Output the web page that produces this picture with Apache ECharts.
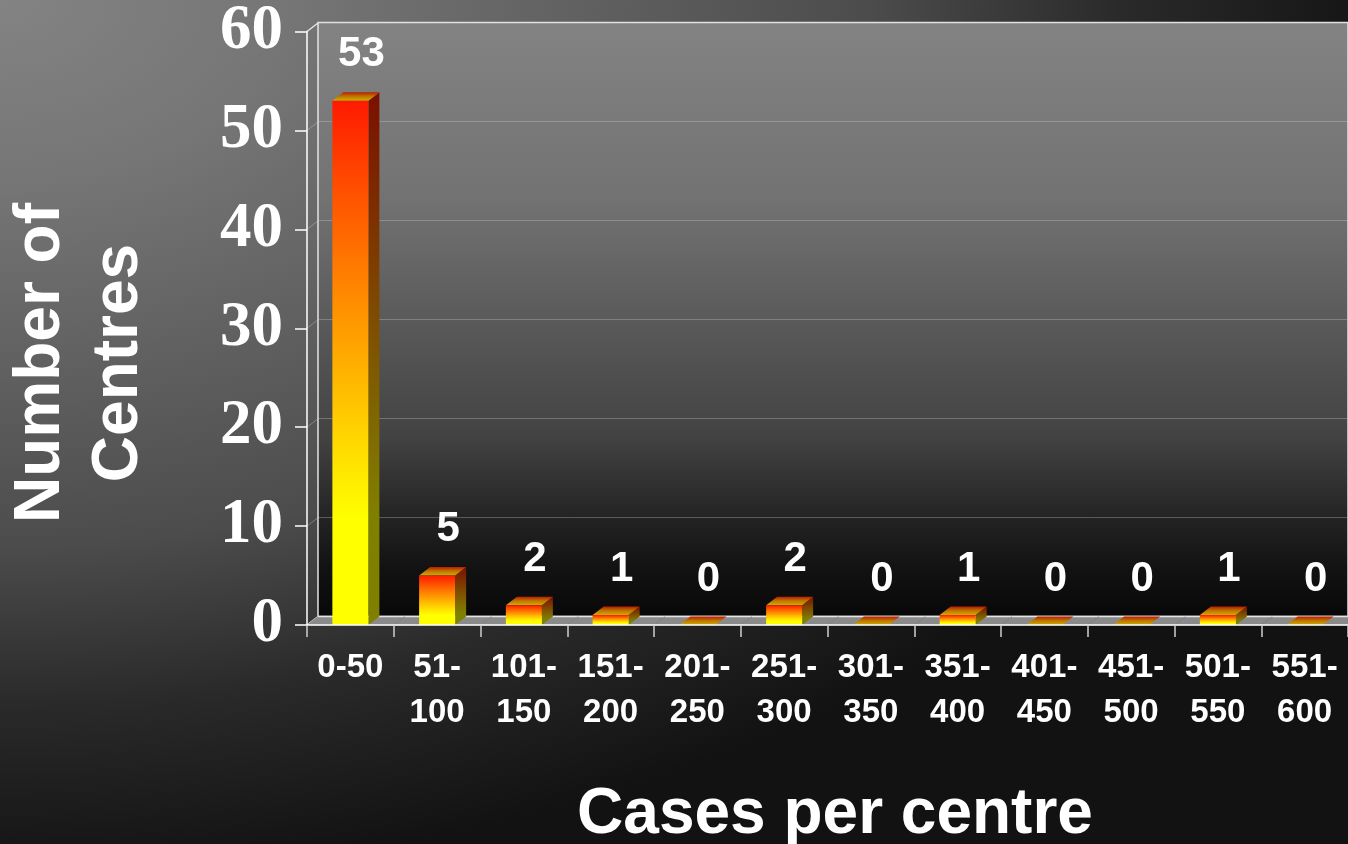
<!DOCTYPE html>
<html>
<head>
<meta charset="utf-8">
<script src="https://cdn.jsdelivr.net/npm/echarts@6/dist/echarts.min.js"></script>
<style>
  html, body { margin: 0; padding: 0; }
  body {
    width: 1348px; height: 844px; overflow: hidden;
    background: radial-gradient(ellipse 1400px 880px at 0 0, #838383 0%, #767676 20%, #4c4c4c 62%, #2a2a2a 80%, #121212 100%);
  }
  #chart { width: 1348px; height: 844px; }
</style>
</head>
<body>
<div id="chart"></div>
<script>
// chart data
const categories = ['0-50', '51-100', '101-150', '151-200', '201-250', '251-300',
  '301-350', '351-400', '401-450', '451-500', '501-550', '551-600'];
const centres = [53, 5, 2, 1, 0, 2, 0, 1, 0, 0, 1, 0];
const yTicks = [0, 10, 20, 30, 40, 50, 60];

// 3D look: depth of the box going back
const DX = 11;
const DY = 8.5;

const chart = echarts.init(document.getElementById('chart'));

const grad = (stops) => ({
  type: 'linear', x: 0, y: 0, x2: 0, y2: 1,
  colorStops: stops.map(([offset, color]) => ({ offset, color }))
});

const frontFill = grad([[0, '#ff1a00'], [0.19, '#ff5500'], [0.38, '#ff8c00'], [0.65, '#ffd800'], [0.8, '#ffff00'], [1, '#ffff00']]);
const sideFill = grad([[0, '#7a1000'], [0.19, '#7c2a00'], [0.38, '#7e4600'], [0.65, '#806c00'], [0.8, '#808000'], [1, '#808000']]);
const topFill = grad([[0, '#b81e00'], [0.45, '#c07000'], [1, '#c8b000']]);

function renderBar(params, api) {
  const i = api.value(0);
  const v = api.value(1);
  const base = api.coord([i, 0]);
  const top = api.coord([i, v]);
  const band = api.size([1, 0])[0];
  const w = band * 0.415;
  const xL = base[0] - w / 2, xR = base[0] + w / 2;
  const y0 = base[1], y1 = top[1];
  const children = [];
  if (v > 0) {
    children.push({
      type: 'polygon',
      shape: { points: [[xR, y1], [xR + DX, y1 - DY], [xR + DX, y0 - DY], [xR, y0]] },
      style: { fill: sideFill }
    });
  }
  children.push({
    type: 'polygon',
    shape: { points: [[xL, y1], [xL + DX, y1 - DY], [xR + DX, y1 - DY], [xR, y1]] },
    style: { fill: topFill }
  });
  if (v > 0) {
    children.push({
      type: 'rect',
      shape: { x: xL, y: y1, width: w, height: y0 - y1 },
      style: { fill: frontFill }
    });
  }
  children.push({
    type: 'text',
    x: base[0] + 11,
    y: y1 - 46,
    style: {
      text: String(v), fill: '#ffffff',
      font: 'bold 42px "Liberation Sans", Arial, sans-serif',
      align: 'center', verticalAlign: 'middle'
    }
  });
  return { type: 'group', children };
}

function renderFloor(params, api) {
  const i = api.value(0);
  const base = api.coord([i, 0]);
  const band = api.size([1, 0])[0];
  const xl = base[0] - band / 2, xr = base[0] + band / 2;
  const y0 = base[1];
  return {
    type: 'group',
    children: [
      {
        type: 'polygon',
        shape: { points: [[xl, y0], [xl + DX, y0 - DY], [xr + DX, y0 - DY], [xr, y0]] },
        style: { fill: '#8a8a8a', stroke: '#8a8a8a', lineWidth: 0.5 }
      },
      {
        type: 'line',
        shape: { x1: xl + DX, y1: y0 - DY, x2: xr + DX, y2: y0 - DY },
        style: { stroke: '#e4e4e4', lineWidth: 1.5 }
      }
    ]
  };
}

function renderSideWall(params, api) {
  const t = api.value(1);
  const p = api.coord([0, t]);
  const x0 = params.coordSys.x;
  const edge = t === yTicks[0] || t === yTicks[yTicks.length - 1];
  return {
    type: 'line',
    shape: { x1: x0, y1: p[1], x2: x0 + DX, y2: p[1] - DY },
    style: { stroke: edge ? '#e4e4e4' : 'rgba(220,220,220,0.35)', lineWidth: edge ? 1.5 : 1 }
  };
}

const option = {
  backgroundColor: 'transparent',
  animation: false,
  grid: [
    {
      // back wall
      left: 318, top: 22.5, right: -5, bottom: 227.5,
      show: true,
      borderColor: '#e4e4e4', borderWidth: 1.5,
      backgroundColor: grad([[0, '#838383'], [0.3, '#727272'], [0.7, '#424242'], [0.83, '#242424'], [0.92, '#121212'], [1, '#080808']])
    },
    {
      // front plane
      left: 307, top: 31, right: 0, bottom: 219
    }
  ],
  xAxis: [
    { type: 'category', gridIndex: 0, data: categories, show: false },
    {
      type: 'category', gridIndex: 1, data: categories, z: 10,
      axisLine: { show: true, lineStyle: { color: '#ffffff', width: 1.5 } },
      axisTick: { show: true, length: 12, interval: 0, lineStyle: { color: '#d0d0d0', width: 1.5 } },
      axisLabel: {
        interval: 0, margin: 20, color: '#ffffff',
        fontFamily: '"Liberation Sans", Arial, sans-serif', fontWeight: 'bold', fontSize: 33,
        lineHeight: 45,
        formatter: (s) => s.indexOf('-') > 0 && s !== '0-50' ? s.replace('-', '-\n') : s
      }
    }
  ],
  yAxis: [
    {
      type: 'value', gridIndex: 0, min: 0, max: 60, interval: 10,
      axisLine: { show: false }, axisTick: { show: false }, axisLabel: { show: false },
      splitLine: { show: true, lineStyle: { color: 'rgba(220,220,220,0.3)', width: 1 } }
    },
    {
      type: 'value', gridIndex: 1, min: 0, max: 60, interval: 10, z: 10,
      axisLine: { show: true, lineStyle: { color: '#ffffff', width: 1.5 } },
      axisTick: { show: true, length: 12, lineStyle: { color: '#ffffff', width: 1.5 } },
      axisLabel: {
        margin: 24, color: '#ffffff',
        fontFamily: '"Liberation Serif", "Times New Roman", serif', fontWeight: 'bold', fontSize: 63
      },
      splitLine: { show: false }
    }
  ],
  series: [
    {
      name: 'wall', type: 'custom', xAxisIndex: 1, yAxisIndex: 1, z: 1,
      renderItem: renderSideWall,
      data: yTicks.map((t) => [0, t]),
      silent: true
    },
    {
      name: 'floor', type: 'custom', xAxisIndex: 1, yAxisIndex: 1, z: 1,
      renderItem: renderFloor,
      data: categories.map((c, i) => [i, 0]),
      silent: true
    },
    {
      name: 'Number of Centres', type: 'custom', xAxisIndex: 1, yAxisIndex: 1, z: 3,
      renderItem: renderBar,
      encode: { x: 0, y: 1 },
      data: centres.map((v, i) => [i, v])
    }
  ],
  graphic: [
    {
      type: 'text', x: 835, y: 815,
      style: {
        text: 'Cases per centre', fill: '#ffffff',
        font: 'bold 64px "Liberation Sans", Arial, sans-serif',
        align: 'center', verticalAlign: 'middle'
      }
    },
    {
      type: 'text', x: 80, y: 363, rotation: Math.PI / 2,
      style: {
        text: 'Number of\nCentres', fill: '#ffffff',
        font: 'bold 64px "Liberation Sans", Arial, sans-serif',
        lineHeight: 78,
        align: 'center', verticalAlign: 'middle'
      }
    }
  ]
};

chart.setOption(option);
</script>
</body>
</html>
